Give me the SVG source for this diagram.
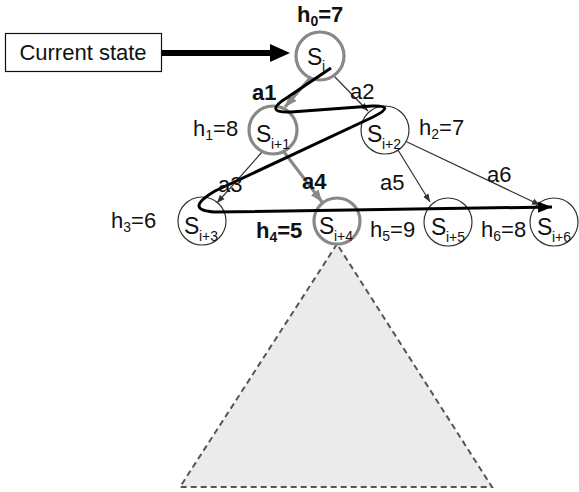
<svg xmlns="http://www.w3.org/2000/svg" width="579" height="492" viewBox="0 0 579 492">
<defs>
<style>
text{font-family:"Liberation Sans",Arial,sans-serif;fill:#111}
.lbl{font-size:22px}
.b{font-weight:bold}
.sub{font-size:14px}
.ns{font-size:23px}
.st{font-size:22px}
.thin{fill:none;stroke:#333;stroke-width:1.2}
.gray{fill:none;stroke:#888;stroke-width:3}
.n{fill:#fff;stroke:#333;stroke-width:1.2}
.ng{fill:#fff;stroke:#888;stroke-width:3.2}
</style>
<marker id="at" viewBox="0 0 10 10" refX="10" refY="5" markerWidth="8" markerHeight="8" markerUnits="userSpaceOnUse" orient="auto"><path d="M0,1 L10,5 L0,9 z" fill="#333"/></marker>
<marker id="ag" viewBox="0 0 10 10" refX="10" refY="5" markerWidth="12" markerHeight="12" markerUnits="userSpaceOnUse" orient="auto"><path d="M0,1 L10,5 L0,9 z" fill="#888"/></marker>
<marker id="ab" viewBox="0 0 10 10" refX="10" refY="5" markerWidth="14" markerHeight="14" markerUnits="userSpaceOnUse" orient="auto"><path d="M0,1 L10,5 L0,9 z" fill="#000"/></marker>
</defs>

<g id="subtree">
<polygon points="337,244 180,487 492,487" fill="#ebebeb" stroke="#555" stroke-width="2" stroke-dasharray="6,4"/>
</g>

<g id="current-state">
<rect x="5.5" y="33.5" width="156" height="38" fill="#fff" stroke="#111" stroke-width="1.2"/>
<text x="83" y="60" class="st" text-anchor="middle">Current state</text>
</g>

<g id="connectors">
<line x1="162" y1="53" x2="272" y2="53" stroke="#000" stroke-width="6"/>
<polygon points="270,44 290,53 270,62" fill="#000"/>
<line x1="310" y1="78" x2="285" y2="107" class="gray" marker-end="url(#ag)"/>
<line x1="334" y1="76" x2="368" y2="111" class="thin" marker-end="url(#at)"/>
<line x1="262" y1="152" x2="217" y2="203" class="thin" marker-end="url(#at)"/>
<line x1="284" y1="152" x2="322" y2="202" class="gray" marker-end="url(#ag)"/>
<line x1="398" y1="150" x2="430" y2="202" class="thin" marker-end="url(#at)"/>
<line x1="405" y1="141" x2="540" y2="205" class="thin" marker-end="url(#at)"/>
</g>

<g id="n0"><circle cx="320" cy="56" r="24" class="ng"/><text x="307" y="65" class="ns">S</text><text x="322" y="71" class="sub">i</text></g>
<g id="n1"><circle cx="273" cy="130" r="24" class="ng"/><text x="256" y="142" class="ns">S</text><text x="271" y="149" class="sub">i+1</text></g>
<g id="n2"><circle cx="385" cy="130" r="24" class="n"/><text x="367" y="142" class="ns">S</text><text x="382" y="149" class="sub">i+2</text></g>
<g id="n3"><circle cx="202" cy="221" r="24" class="n"/><text x="184" y="234" class="ns">S</text><text x="199" y="241" class="sub">i+3</text></g>
<g id="n4"><circle cx="337" cy="221" r="23" class="ng"/><text x="319" y="234" class="ns">S</text><text x="334" y="241" class="sub">i+4</text></g>
<g id="n5"><circle cx="448" cy="222" r="24" class="n"/><text x="431" y="235" class="ns">S</text><text x="446" y="242" class="sub">i+5</text></g>
<g id="n6"><circle cx="554" cy="222" r="24" class="n"/><text x="537" y="235" class="ns">S</text><text x="552" y="242" class="sub">i+6</text></g>

<g id="path">
<path d="M331,68 L288,97 Q262,113 291,112 L372,106 Q397,105 373,117 L215,191 Q183,210 215,212 L552,207" fill="none" stroke="#000" stroke-width="3" marker-end="url(#ab)"/>
</g>

<g id="labels">
<text x="297" y="22" class="lbl b">h<tspan class="sub" dy="4">0</tspan><tspan dy="-4">=7</tspan></text>
<text x="193" y="136" class="lbl">h<tspan class="sub" dy="4">1</tspan><tspan dy="-4">=8</tspan></text>
<text x="419" y="135" class="lbl">h<tspan class="sub" dy="4">2</tspan><tspan dy="-4">=7</tspan></text>
<text x="111" y="228" class="lbl">h<tspan class="sub" dy="4">3</tspan><tspan dy="-4">=6</tspan></text>
<text x="256" y="238" class="lbl b">h<tspan class="sub" dy="4">4</tspan><tspan dy="-4">=5</tspan></text>
<text x="370" y="237" class="lbl">h<tspan class="sub" dy="4">5</tspan><tspan dy="-4">=9</tspan></text>
<text x="481" y="237" class="lbl">h<tspan class="sub" dy="4">6</tspan><tspan dy="-4">=8</tspan></text>
<text x="252" y="100" class="lbl b">a1</text>
<text x="350" y="99" class="lbl">a2</text>
<text x="218" y="192" class="lbl">a3</text>
<text x="302" y="189" class="lbl b">a4</text>
<text x="380" y="190" class="lbl">a5</text>
<text x="487" y="182" class="lbl">a6</text>
</g>
</svg>
